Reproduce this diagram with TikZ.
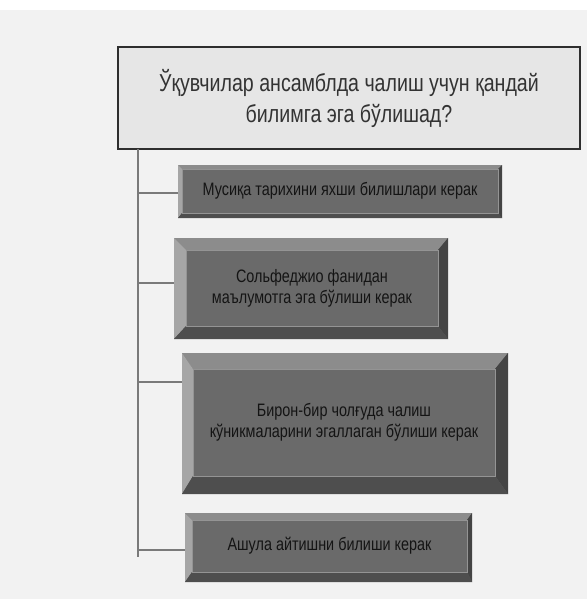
\documentclass[tikz,border=0pt]{standalone}
\usepackage{fontspec}
\setmainfont{Liberation Sans}
\newfontfamily\narrowfont[FakeStretch=0.8]{Liberation Sans}
\definecolor{bgcol}{HTML}{F2F2F2}
\definecolor{facecol}{HTML}{6A6A6A}
\definecolor{topcol}{HTML}{8C8C8C}
\definecolor{leftcol}{HTML}{A6A6A6}
\definecolor{rightcol}{HTML}{444444}
\definecolor{botcol}{HTML}{4E4E4E}
\definecolor{edgecol}{HTML}{949494}
\definecolor{linecol}{HTML}{7A7A7A}
\definecolor{qfill}{HTML}{E6E6E6}
\definecolor{qborder}{HTML}{2E2E2E}
\definecolor{txtcol}{HTML}{141414}
\definecolor{qtxtcol}{HTML}{333333}
\tikzset{
  boxtext/.style={align=center, text=txtcol, font=\narrowfont\fontsize{18}{21}\selectfont, inner sep=0pt},
  qtext/.style={align=center, text=qtxtcol, font=\narrowfont\fontsize{24.5}{31}\selectfont, inner sep=0pt},
  conn/.style={draw=linecol, line width=1.4pt},
}
% name, x1, y1, x2, y2, bevel left, top, right, bottom
\newcommand{\bevelbox}[9]{%
  \fill[facecol] (#2,#3) rectangle (#4,#5);
  \fill[topcol] (#2,#3) -- (#4,#3) -- (#4-#8,#3+#7) -- (#2+#6,#3+#7) -- cycle;
  \fill[leftcol] (#2,#3) -- (#2+#6,#3+#7) -- (#2+#6,#5-#9) -- (#2,#5) -- cycle;
  \fill[rightcol] (#4,#3) -- (#4,#5) -- (#4-#8,#5-#9) -- (#4-#8,#3+#7) -- cycle;
  \fill[botcol] (#2,#5) -- (#4,#5) -- (#4-#8,#5-#9) -- (#2+#6,#5-#9) -- cycle;
  \draw[edgecol, line width=0.5pt] (#2+#6,#3+#7) rectangle (#4-#8,#5-#9);
  \node[inner sep=0pt, minimum width={(#4-#2)*1pt}, minimum height={(#5-#3)*1pt}] (#1) at ({(#2+#4)/2},{(#3+#5)/2}) {};
  \coordinate (#1face) at ({(#2+#6+#4-#8)/2},{(#3+#7+#5-#9)/2});
}
\begin{document}
\begin{tikzpicture}[x=1pt,y=-1pt]
\useasboundingbox (0,0) rectangle (587,599);
\fill[bgcol] (0,10) rectangle (587,599);
\fill[white] (0,0) rectangle (587,10);

% question box
\node[draw=qborder, line width=2.2pt, fill=qfill, minimum width=462pt, minimum height=102pt, inner sep=0pt] (q) at (349,98) {};
\node[qtext] (qt) at (q.center) {Ўқувчилар ансамблда чалиш учун қандай\\билимга эга бўлишад?};

% boxes
\bevelbox{b1}{178}{165}{502}{218}{4}{4}{4}{5}
\bevelbox{b2}{174}{238}{448}{339}{12}{12}{10}{13}
\bevelbox{b3}{182}{353}{508}{494}{11}{16}{13}{18}
\bevelbox{b4}{185}{513}{472}{582}{7}{7}{5}{10}

\node[boxtext] (t1) at (b1face) {Мусиқа тарихини яхши билишлари керак};
\node[boxtext] (t2) at (b2face) {Сольфеджио фанидан\\маълумотга эга бўлиши керак};
\node[boxtext] (t3) at (b3face) {Бирон-бир чолғуда чалиш\\кўникмаларини эгаллаган бўлиши керак};
\node[boxtext] (t4) at (b4face) {Ашула айтишни билиши керак};

% connectors
\coordinate (top) at (138,149);
\coordinate (bot) at (138,557);
\coordinate (c1) at (138,193);
\coordinate (c2) at (138,283);
\coordinate (c3) at (138,382);
\coordinate (c4) at (138,550);
\draw[conn] (top) -- (bot);
\draw[conn] (c1) -- (c1 -| b1.west);
\draw[conn] (c2) -- (c2 -| b2.west);
\draw[conn] (c3) -- (c3 -| b3.west);
\draw[conn] (c4) -- (c4 -| b4.west);
\end{tikzpicture}
\end{document}
